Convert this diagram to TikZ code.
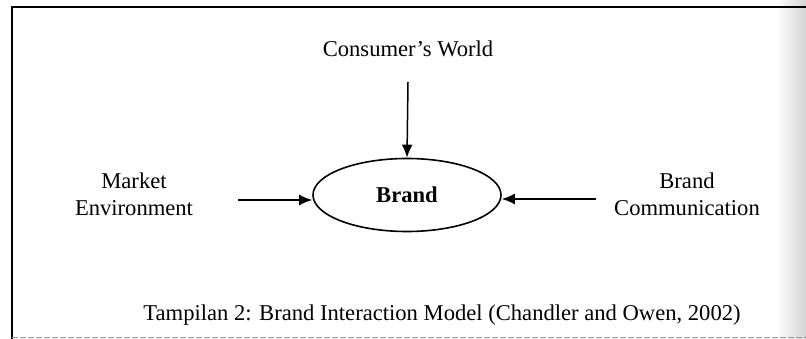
\documentclass[tikz,border=0pt]{standalone}
\usepackage{fontspec}
\setmainfont{Liberation Serif}
\usetikzlibrary{arrows.meta,shapes.geometric}

\tikzset{
  lbl/.style={inner sep=0pt, font=\fontsize{22.6}{28}\selectfont, align=center},
  hub/.style={draw, ellipse, line width=1.6pt, minimum width=188pt, minimum height=73pt,
              inner sep=0pt, font=\fontsize{22.6}{28}\selectfont\bfseries},
  flow/.style={line width=1.5pt, -{Latex[length=13pt,width=11pt]}},
  frame/.style={line width=2pt},
}

\begin{document}
\begin{tikzpicture}[x=1pt,y=-1pt]
  \useasboundingbox (0,0) rectangle (806,339);

  % shadow of the page edge on the right
  \shade[left color=white, right color=black!17] (776,0) rectangle (806,339);

  % frame: top and left rules, faint bottom rule
  \draw[frame] (12,339) -- (12,7) -- (806,7);
  \draw[black!40, line width=0.9pt, dash pattern=on 6pt off 2pt] (12,337.5) -- (806,337.5);

  % central concept
  \node[hub] (brand) at (407,195) {Brand};

  % surrounding influences (base anchor sits on the last line)
  \node[lbl, anchor=base] (world) at (408,57) {Consumer’s World};
  \node[lbl, anchor=base] (market) at (134,216) {Market\\Environment};
  \node[lbl, anchor=base] (comm) at (687,216) {Brand\\Communication};

  % arrow start points
  \coordinate (worldtail) at (408,82);
  \coordinate (markettail) at (238,200);
  \coordinate (commtail) at (596,199);

  \draw[flow] (worldtail) -- (brand.north);
  \draw[flow] (markettail) -- (markettail -| brand.west);
  \draw[flow] (commtail) -- (commtail -| brand.east);

  % caption
  \node[lbl, anchor=base] (caption) at (442,320)
    {Tampilan 2: Brand Interaction Model (Chandler and Owen, 2002)};
\end{tikzpicture}
\end{document}
